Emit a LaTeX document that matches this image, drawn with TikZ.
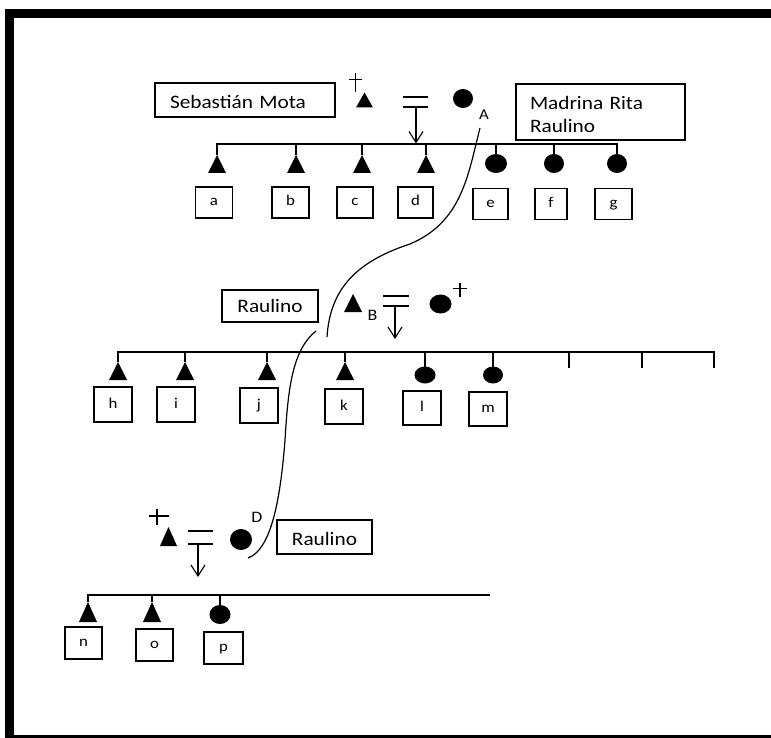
\documentclass[tikz,border=0pt]{standalone}
\usepackage{fontspec}
\setmainfont{Carlito}[FakeStretch=1.12]
\usetikzlibrary{arrows.meta,shapes.geometric}
\begin{document}
\begin{tikzpicture}[x=1pt,y=-1pt,
  kin/.style={line width=1.1pt},
  namebox/.style={draw, line width=1.2pt, inner sep=0pt, font=\fontsize{19}{23}\selectfont},
  kid/.style={draw, line width=1.2pt, minimum width=37pt, minimum height=32pt, inner sep=0pt,
    text height=10pt, text depth=3pt, font=\fontsize{15}{15}\selectfont},
  male/.style={minimum width=18pt, minimum height=18pt, inner sep=0pt, outer sep=0pt,
    path picture={\fill (path picture bounding box.south west) -- (path picture bounding box.north)
      -- (path picture bounding box.south east) -- cycle;}},
  female/.style={ellipse, fill, minimum width=21pt, minimum height=19pt, inner sep=0pt, outer sep=0pt},
  tag/.style={inner sep=0pt, font=\fontsize{16}{16}\selectfont},
  wed/.style={minimum width=25pt, minimum height=10pt, inner sep=0pt, outer sep=0pt},
  descent/.style={kin, -{Straight Barb[length=11pt,width=14pt]}},
  link/.style={line width=1.2pt}
]
\useasboundingbox (0,0) rectangle (771,738);
\clip (0,0) rectangle (771,738);

% outer frame
\draw[line width=8.5pt] (9.25,13.75) rectangle (776,739.5);

% ---------------- first generation ----------------
\node[namebox, minimum width=180pt, minimum height=34pt, text width=150pt, align=left,
      text height=18pt, text depth=0pt] (seb) at (245,100) {Sebastián Mota};
\node[namebox, minimum width=169pt, minimum height=56pt, text width=141pt, align=left,
      text height=20pt, text depth=24pt] (rita) at (600.5,112) {Madrina Rita\\Raulino};

\node[male, minimum width=17pt, minimum height=15pt] (fA) at (364.5,100) {};
\node[female, minimum width=20pt, minimum height=19pt] (mA) at (463,98.5) {};
\draw[kin] (349,79.5) -- (362,79.5) (355.5,73.5) -- (355.5,92);
\node[tag, font=\fontsize{15}{15}\selectfont] (labA) at (484,114.5) {A};

\node[wed] (wA) at (415.5,102) {};
\draw[kin] (wA.north west) -- (wA.north east) (wA.south west) -- (wA.south east);
\coordinate (dA) at (416,143.5);
\draw[descent] (wA.south -| dA) -- (dA);

% children a-g
\node[male]   (sa) at (217,164) {};
\node[male]   (sb) at (296,164) {};
\node[male]   (sc) at (362,164) {};
\node[male]   (sd) at (426,164) {};
\node[female, minimum width=22pt] (se) at (496,163.5) {};
\node[female, minimum width=20pt] (sf) at (554,163.5) {};
\node[female, minimum width=20pt] (sg) at (617,163.5) {};
\coordinate (barA) at (0,144);
\draw[kin] (sa.north) -- (sa.north |- barA) -- (sg.north |- barA) -- (sg.north);
\foreach \s in {sb,sc,sd,se,sf} \draw[kin] (\s.north) -- (\s.north |- barA);

\node[kid, minimum height=31pt] (ka) at (214,202.5) {a};
\node[kid, minimum height=31pt] (kb) at (290.5,202.5) {b};
\node[kid, minimum height=31pt, minimum width=36pt] (kc) at (355,202.5) {c};
\node[kid, minimum height=31pt, minimum width=35pt] (kd) at (415.5,202.5) {d};
\node[kid, minimum height=31pt, minimum width=35pt] (ke) at (490.5,204) {e};
\node[kid, minimum height=31pt, minimum width=32pt] (kf) at (551,204) {f};
\node[kid, minimum height=31pt] (kg) at (613.5,204) {g};

% link A -> B
\coordinate (lkA1) at (480,128);
\coordinate (lkA2) at (410,244);
\coordinate (lkA3) at (327,337);
\draw[link] (lkA1) .. controls (468,175) and (462,222) .. (lkA2)
            .. controls (355,262) and (330,290) .. (lkA3);

% ---------------- second generation ----------------
\node[namebox, minimum width=96pt, minimum height=32pt, text height=13pt, text depth=0pt]
     (rau1) at (270,306) {Raulino};
\node[male] (fB) at (353,303) {};
\node[tag] (labB) at (372.5,315) {B};
\node[wed, minimum width=26pt] (wB) at (396,301) {};
\draw[kin] (wB.north west) -- (wB.north east) (wB.south west) -- (wB.south east);
\coordinate (dB) at (395,339);
\draw[descent] (wB.south -| dB) -- (dB);
\node[female, minimum width=22pt] (mB) at (440.5,304) {};
\draw[kin] (453,288.5) -- (467,288.5) (460,283) -- (460,297);

% children h-m
\node[male] (sh) at (118,371) {};
\node[male] (si) at (185,371) {};
\node[male] (sj) at (267,371) {};
\node[male] (sk) at (345,371) {};
\node[female, minimum height=17pt] (sl) at (425,375) {};
\node[female, minimum width=20pt, minimum height=17pt] (sm) at (493,375) {};
\coordinate (barB) at (0,352);
\coordinate (e1) at (569,368);
\coordinate (e2) at (642,368);
\coordinate (e3) at (714,368);
\draw[kin] (sh.north) -- (sh.north |- barB) -- (e3 |- barB) -- (e3);
\foreach \s in {si,sj,sk,sl,sm,e1,e2} \draw[kin] (\s) -- (\s |- barB);

\node[kid, minimum width=38pt, minimum height=35pt] (kh) at (113,404.5) {h};
\node[kid, minimum width=38pt, minimum height=35pt] (ki) at (176,404.5) {i};
\node[kid, minimum width=38pt, minimum height=35pt] (kj) at (259,405.5) {j};
\node[kid, minimum width=38pt, minimum height=35pt] (kk) at (344,406.5) {k};
\node[kid, minimum width=38pt, minimum height=34pt] (kl) at (422,408) {l};
\node[kid, minimum width=38pt, minimum height=34pt] (km) at (488,409) {m};

% link B -> D
\coordinate (lkB1) at (316,331);
\coordinate (lkB2) at (285,440);
\coordinate (lkB3) at (248,558);
\draw[link] (lkB1) .. controls (292,350) and (288,390) .. (lkB2)
            .. controls (280,505) and (270,550) .. (lkB3);

% ---------------- third generation ----------------
\draw[kin] (148.5,516) -- (168.5,516) (157,509) -- (157,525);
\node[male, minimum width=17pt, minimum height=19pt] (fD) at (168.5,536.5) {};
\node[wed, minimum height=13pt] (wD) at (200.5,537.5) {};
\draw[kin] (wD.north west) -- (wD.north east) (wD.south west) -- (wD.south east);
\coordinate (dD) at (198,577);
\draw[descent] (wD.south -| dD) -- (dD);
\node[female, minimum width=22pt, minimum height=21pt] (mD) at (241,539.5) {};
\node[tag] (labD) at (257,517.5) {D};
\node[namebox, minimum width=95pt, minimum height=34pt, text height=16pt, text depth=0pt]
     (rau2) at (324.5,537) {Raulino};

% children n-p
\node[male, minimum height=20pt] (sn) at (88,612) {};
\node[male, minimum height=20pt] (so) at (152,612) {};
\node[female] (sp) at (220,614.5) {};
\coordinate (barD) at (0,595);
\coordinate (endD) at (490,595);
\draw[kin] (sn.north) -- (sn.north |- barD) -- (endD);
\foreach \s in {so,sp} \draw[kin] (\s.north) -- (\s.north |- barD);

\node[kid] (kn) at (83.5,643) {n};
\node[kid] (ko) at (154.5,645) {o};
\node[kid, minimum width=39pt] (kp) at (223.5,648) {p};
\end{tikzpicture}
\end{document}
